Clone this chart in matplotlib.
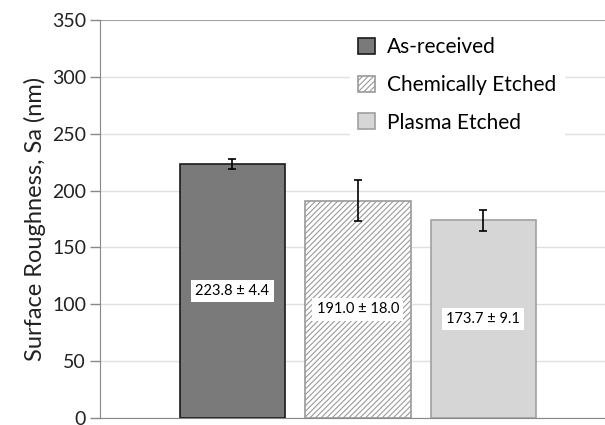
import matplotlib
matplotlib.use("Agg")
import matplotlib.pyplot as plt
import numpy as np

categories = ["As-received", "Chemically Etched", "Plasma Etched"]
means = [223.8, 191.0, 173.7]
errors = [4.4, 18.0, 9.1]
value_labels = ["223.8 ± 4.4", "191.0 ± 18.0", "173.7 ± 9.1"]
yticks = [0, 50, 100, 150, 200, 250, 300, 350]

plt.rcParams['font.family'] = ['Lato', 'DejaVu Sans']
plt.rcParams['hatch.color'] = '#9a9a9a'
plt.rcParams['hatch.linewidth'] = 0.8

fig = plt.figure(figsize=(6.05, 4.25), dpi=100)
ax = fig.add_axes([100/605, 1-418/425, 505/605, 398/425])

x = np.arange(len(categories))
styles = [
    dict(color='#7a7a7a', edgecolor='#1a1a1a', hatch=None),
    dict(color='white', edgecolor='#9a9a9a', hatch='//////'),
    dict(color='#d6d6d6', edgecolor='#a0a0a0', hatch=None),
]
for i in range(len(categories)):
    ax.bar(x[i], means[i], width=0.84, label=categories[i], linewidth=1.2,
           zorder=3, **styles[i])
    ax.errorbar(x[i], means[i], yerr=errors[i], fmt='none', ecolor='black',
                elinewidth=1.2, capsize=3, capthick=1.2, zorder=4)
    ax.text(x[i], means[i] / 2, value_labels[i], ha='center', va='center',
            fontsize=10.5, zorder=5,
            bbox=dict(facecolor='white', edgecolor='none', pad=3))

ax.set_ylim(0, 350)
ax.set_xlim(-1.056, 2.97)
ax.set_yticks(yticks)
ax.set_xticks([])
ax.tick_params(axis='y', labelsize=14, length=7, width=1, color='#888888',
               labelcolor='#222222', pad=3)
ax.yaxis.grid(True, color='#e0e0e0', linewidth=1, zorder=0)
ax.set_axisbelow(True)
for s in ['top', 'right']:
    ax.spines[s].set_visible(False)
ax.spines['left'].set_color('#888888')
ax.spines['bottom'].set_color('#888888')
ax.axhline(350, color='#999999', linewidth=1.2, zorder=1)
ax.set_ylabel("Surface Roughness, Sa (nm)", fontsize=17, color='#222222', labelpad=4)

leg = ax.legend(loc='upper left', bbox_to_anchor=(0.474, 1.004), fontsize=15,
                frameon=True, framealpha=1, edgecolor='none', facecolor='white',
                handlelength=0.8, handleheight=0.8, handletextpad=0.6,
                labelspacing=0.85, borderpad=0.4)
leg.set_zorder(6)

fig.savefig("out.png", dpi=100)
